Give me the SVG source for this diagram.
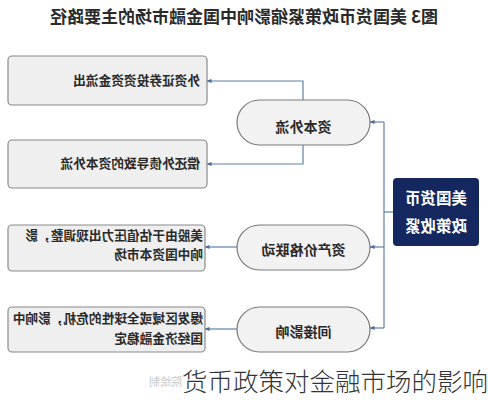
<svg xmlns="http://www.w3.org/2000/svg" width="488" height="400" viewBox="0 0 488 400">
<defs>
<style>
.box{fill:#efefef;stroke:#8a8a8a;stroke-width:1.2}
.pill{fill:#f2f2f2;stroke:#7a7a7a;stroke-width:1.2}
.t{font-family:"Noto Sans CJK SC","Noto Sans",sans-serif;fill:#2a2a2a}
.w{fill:#ffffff;font-size:15.5px;font-weight:bold;text-anchor:middle}
.wm{fill:#c8c8c8;font-size:11px}
.bt{font-size:12.7px;font-weight:bold}
.pt{font-size:14px;font-weight:bold;text-anchor:middle}
.c{fill:none;stroke:#5f80a8;stroke-width:1.2}
</style>
<marker id="ah" viewBox="0 0 6 6" refX="5.5" refY="3" markerWidth="5" markerHeight="5" orient="auto" markerUnits="userSpaceOnUse">
<path d="M0,0.5 L6,3 L0,5.5 z" fill="#4f6f98"/>
</marker>
</defs>
<rect width="488" height="400" fill="#ffffff"/>
<g transform="translate(488,0) scale(-1,1)">
<text id="title" class="t" x="244" y="23" font-size="17" font-weight="bold" text-anchor="middle">图3 美国货币政策紧缩影响中国金融市场的主要路径</text>
<g id="connectors">
<polyline class="c" points="95,212 104,212"/>
<polyline class="c" points="104,122 104,328"/>
<line class="c" x1="104" y1="122" x2="118" y2="122" marker-end="url(#ah)"/>
<line class="c" x1="104" y1="247" x2="118" y2="247" marker-end="url(#ah)"/>
<line class="c" x1="104" y1="328" x2="118" y2="328" marker-end="url(#ah)"/>
<polyline class="c" points="185,100 185,81 281,81" marker-end="url(#ah)"/>
<polyline class="c" points="185,145 185,164 281,164" marker-end="url(#ah)"/>
<line class="c" x1="251" y1="247" x2="283" y2="247" marker-end="url(#ah)"/>
<line class="c" x1="251" y1="329" x2="283" y2="329" marker-end="url(#ah)"/>
</g>
<g id="root">
<rect x="9" y="178" width="86" height="68" rx="4" fill="#14275e"/>
<text class="t w" x="52" y="204">美国货币</text>
<text class="t w" x="52" y="232">政策收紧</text>
</g>
<g id="n-capital">
<rect class="pill" x="118" y="100" width="133" height="45" rx="22.5"/>
<text class="t pt" x="184.5" y="132">资本外流</text>
</g>
<g id="n-asset">
<rect class="pill" x="118" y="225" width="133" height="45" rx="22.5"/>
<text class="t pt" x="184.5" y="255">资产价格联动</text>
</g>
<g id="n-indirect">
<rect class="pill" x="118" y="307" width="133" height="45" rx="22.5"/>
<text class="t pt" x="184.5" y="337">间接影响</text>
</g>
<g id="b1">
<rect class="box" x="281" y="56" width="199" height="49" rx="4"/>
<text class="t bt" x="288" y="85">外资证券投资资金流出</text>
</g>
<g id="b2">
<rect class="box" x="281" y="140" width="199" height="48" rx="4"/>
<text class="t bt" x="288" y="168">偿还外债导致的资本外流</text>
</g>
<g id="b3">
<rect class="box" x="283" y="225" width="197" height="46" rx="4"/>
<text class="t bt" x="285" y="240">美股由于估值压力出现调整，影</text>
<text class="t bt" x="285" y="259">响中国资本市场</text>
</g>
<g id="b4">
<rect class="box" x="283" y="307" width="197" height="45" rx="4"/>
<text class="t bt" x="285" y="323">爆发区域或全球性的危机，影响中</text>
<text class="t bt" x="285" y="343">国经济金融稳定</text>
</g>
<text class="t wm" x="306" y="386">院绘制</text>
</g>
<text id="caption" x="182" y="391" font-family="'Noto Sans CJK SC',sans-serif" font-size="25.5" font-weight="300" fill="#333">货币政策对金融市场的影响</text>
</svg>
